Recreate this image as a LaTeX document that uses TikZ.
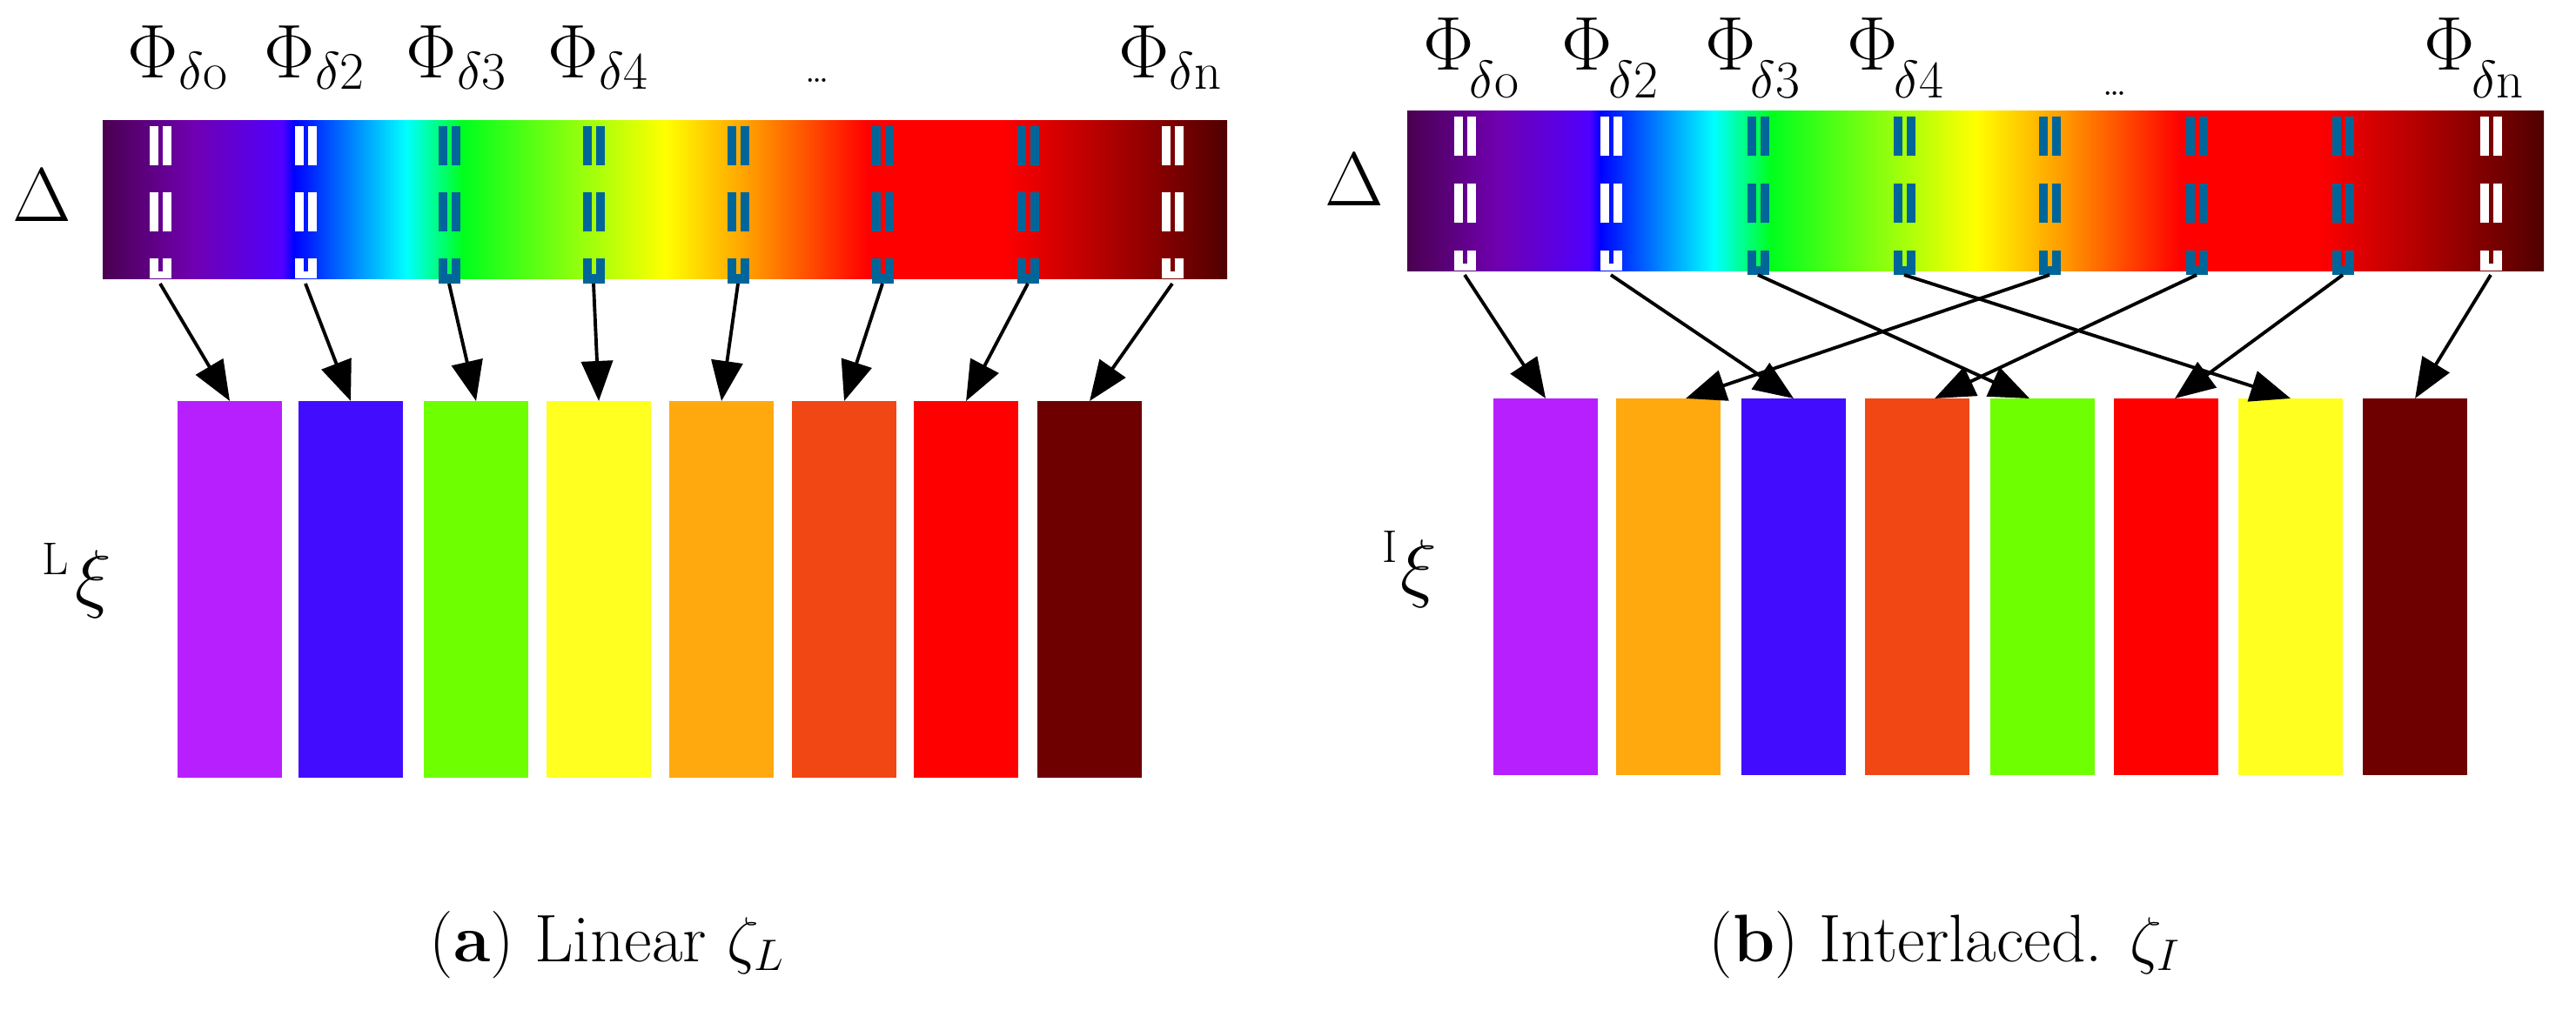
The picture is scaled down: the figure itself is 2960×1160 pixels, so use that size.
\documentclass[tikz,border=0pt]{standalone}
\usetikzlibrary{arrows.meta}
\definecolor{cA}{HTML}{B71FFF}
\definecolor{cB}{HTML}{420DFF}
\definecolor{cC}{HTML}{6EFF00}
\definecolor{cD}{HTML}{FFFF20}
\definecolor{cE}{HTML}{FFA90E}
\definecolor{cF}{HTML}{F04714}
\definecolor{cG}{HTML}{FF0000}
\definecolor{cH}{HTML}{6E0000}
\definecolor{teal2}{HTML}{006699}
\pgfdeclarehorizontalshading{rainbow}{100bp}{
 color(0bp)=(rgb,255:red,74;green,0;blue,80);
 color(25bp)=(rgb,255:red,74;green,0;blue,80);
 color(29bp)=(rgb,255:red,112;green,0;blue,176);
 color(33bp)=(rgb,255:red,80;green,0;blue,255);
 color(33.5bp)=(rgb,255:red,0;green,0;blue,255);
 color(38.5bp)=(rgb,255:red,0;green,255;blue,255);
 color(41bp)=(rgb,255:red,0;green,255;blue,30);
 color(50bp)=(rgb,255:red,255;green,255;blue,0);
 color(54bp)=(rgb,255:red,255;green,150;blue,0);
 color(59bp)=(rgb,255:red,255;green,0;blue,0);
 color(65bp)=(rgb,255:red,255;green,0;blue,0);
 color(70bp)=(rgb,255:red,170;green,0;blue,0);
 color(75bp)=(rgb,255:red,80;green,0;blue,0);
 color(100bp)=(rgb,255:red,80;green,0;blue,0)}
\tikzset{
 px/.style={x=0.01cm,y=-0.01cm},
 blk/.style={minimum width=1.2cm,minimum height=4.33cm,inner sep=0,outer sep=0,anchor=north west},
 arr/.style={line width=1.1pt,-{Triangle[length=0.46cm,width=0.36cm]}},
 lab/.style={font=\fontsize{24}{28}\selectfont,inner sep=0},
 small/.style={font=\fontsize{15}{18}\selectfont,inner sep=0},
 captxt/.style={font=\fontsize{22}{26}\selectfont,inner sep=0,anchor=base},
}
\newcommand{\markpair}[5]{% x, top y, color, row spacing, bottom y
 \foreach \r in {0,1}{
  \fill[#3] (#1-12,#2+\r*#4) rectangle ++(10,45);
  \fill[#3] (#1+3,#2+\r*#4) rectangle ++(10,45);}
 \fill[#3] (#1-12,#2+2*#4) rectangle (#1-2,#5);
 \fill[#3] (#1+3,#2+2*#4) rectangle (#1+13,#5);
}
\begin{document}
\begin{tikzpicture}[px]
\useasboundingbox (0,0) rectangle (2960,1160);
% ---------- left panel ----------
\shade[shading=rainbow] (118,138) rectangle (1410,320);
\foreach \x/\c in {184/white,351/white,516/teal2,682/teal2,848/teal2,1014/teal2,1181/teal2,1347/white}{
 \markpair{\x}{145}{\c}{76}{320}
}
\foreach \x in {516,682,848,1014,1181}{\fill[teal2] (\x-12,315) rectangle (\x+13,326);}
\foreach \x in {184,351,1347}{\fill[white] (\x-4,312) rectangle (\x+5,320);}
\foreach \i/\x/\c in {1/204/cA,2/343/cB,3/487/cC,4/628/cD,5/769/cE,6/910/cF,7/1050/cG,8/1192/cH}
 \node[blk,fill=\c] (L\i) at (\x,461) {};
\foreach \i/\x in {1/184,2/351,3/516,4/682,5/848,6/1014,7/1181,8/1347}{
 \coordinate (ls\i) at (\x,326);
 \draw[arr] (ls\i) -- (L\i.north);}
\node[lab,anchor=base] (p1) at (205,89) {$\Phi_{\delta\mathrm{o}}$};
\node[lab,anchor=base] (p2) at (362,89) {$\Phi_{\delta2}$};
\node[lab,anchor=base] (p3) at (525,89) {$\Phi_{\delta3}$};
\node[lab,anchor=base] (p4) at (688,89) {$\Phi_{\delta4}$};
\node[lab,anchor=base] (pd) at (939,94) {\fontsize{12}{14}\selectfont\ldots};
\node[lab,anchor=base] (pn) at (1345,89) {$\Phi_{\delta\mathrm{n}}$};
\node[lab] (dL) at (48,225) {$\Delta$};
\node[small,anchor=base] (xLs) at (64,660) {L};
\node[lab,anchor=north] (xL) at (107,632) {$\xi$};
\node[captxt] (capL) at (698,1105) {(\textbf{a}) Linear $\zeta_L$};
% ---------- right panel ----------
\shade[shading=rainbow] (1617,127) rectangle (2923,311);
\foreach \x/\c in {1683/white,1851/white,2020/teal2,2188/teal2,2355/teal2,2524/teal2,2692/teal2,2862/white}{
 \markpair{\x}{134}{\c}{77}{311}
}
\foreach \x in {2020,2188,2355,2524,2692}{\fill[teal2] (\x-12,306) rectangle (\x+13,316);}
\foreach \x in {1683,1851,2862}{\fill[white] (\x-4,303) rectangle (\x+5,311);}
\foreach \i/\x/\c in {1/1716/cA,2/1857/cE,3/2001/cB,4/2143/cF,5/2287/cC,6/2429/cG,7/2572/cD,8/2715/cH}
 \node[blk,fill=\c] (R\i) at (\x,458) {};
\foreach \i/\x in {1/1683,2/1851,3/2020,4/2188,5/2355,6/2524,7/2692,8/2862}
 \coordinate (rs\i) at (\x,316);
\draw[arr] (rs1) -- (R1.north);
\draw[arr] (rs2) -- (R3.north);
\draw[arr] (rs3) -- ([xshift=-0.15cm]R5.north);
\draw[arr] (rs4) -- (R7.north);
\draw[arr] (rs5) -- ([xshift=0.2cm]R2.north);
\draw[arr] (rs6) -- ([xshift=0.2cm]R4.north);
\draw[arr] (rs7) -- ([xshift=0.1cm]R6.north);
\draw[arr] (rs8) -- (R8.north);
\node[lab,anchor=base] (q1) at (1665,80) {$\Phi$};
\node[lab,anchor=base] (q1s) at (1717,112) {\fontsize{16}{18}\selectfont$\delta\mathrm{o}$};
\node[lab,anchor=base] (q2) at (1824,80) {$\Phi$};
\node[lab,anchor=base] (q2s) at (1877,112) {\fontsize{16}{18}\selectfont$\delta2$};
\node[lab,anchor=base] (q3) at (1989,80) {$\Phi$};
\node[lab,anchor=base] (q3s) at (2040,112) {\fontsize{16}{18}\selectfont$\delta3$};
\node[lab,anchor=base] (q4) at (2152,80) {$\Phi$};
\node[lab,anchor=base] (q4s) at (2205,112) {\fontsize{16}{18}\selectfont$\delta4$};
\node[lab,anchor=base] (qd) at (2430,109) {\fontsize{12}{14}\selectfont\ldots};
\node[lab,anchor=base] (qn) at (2815,80) {$\Phi$};
\node[lab,anchor=base] (qns) at (2870,112) {\fontsize{16}{18}\selectfont$\delta\mathrm{n}$};
\node[lab] (dR) at (1556,207) {$\Delta$};
\node[small,anchor=base] (xRs) at (1597,646) {I};
\node[lab,anchor=north] (xR) at (1630,620) {$\xi$};
\node[captxt] (capR) at (2235,1105) {(\textbf{b}) Interlaced. $\zeta_I$};
\end{tikzpicture}
\end{document}
